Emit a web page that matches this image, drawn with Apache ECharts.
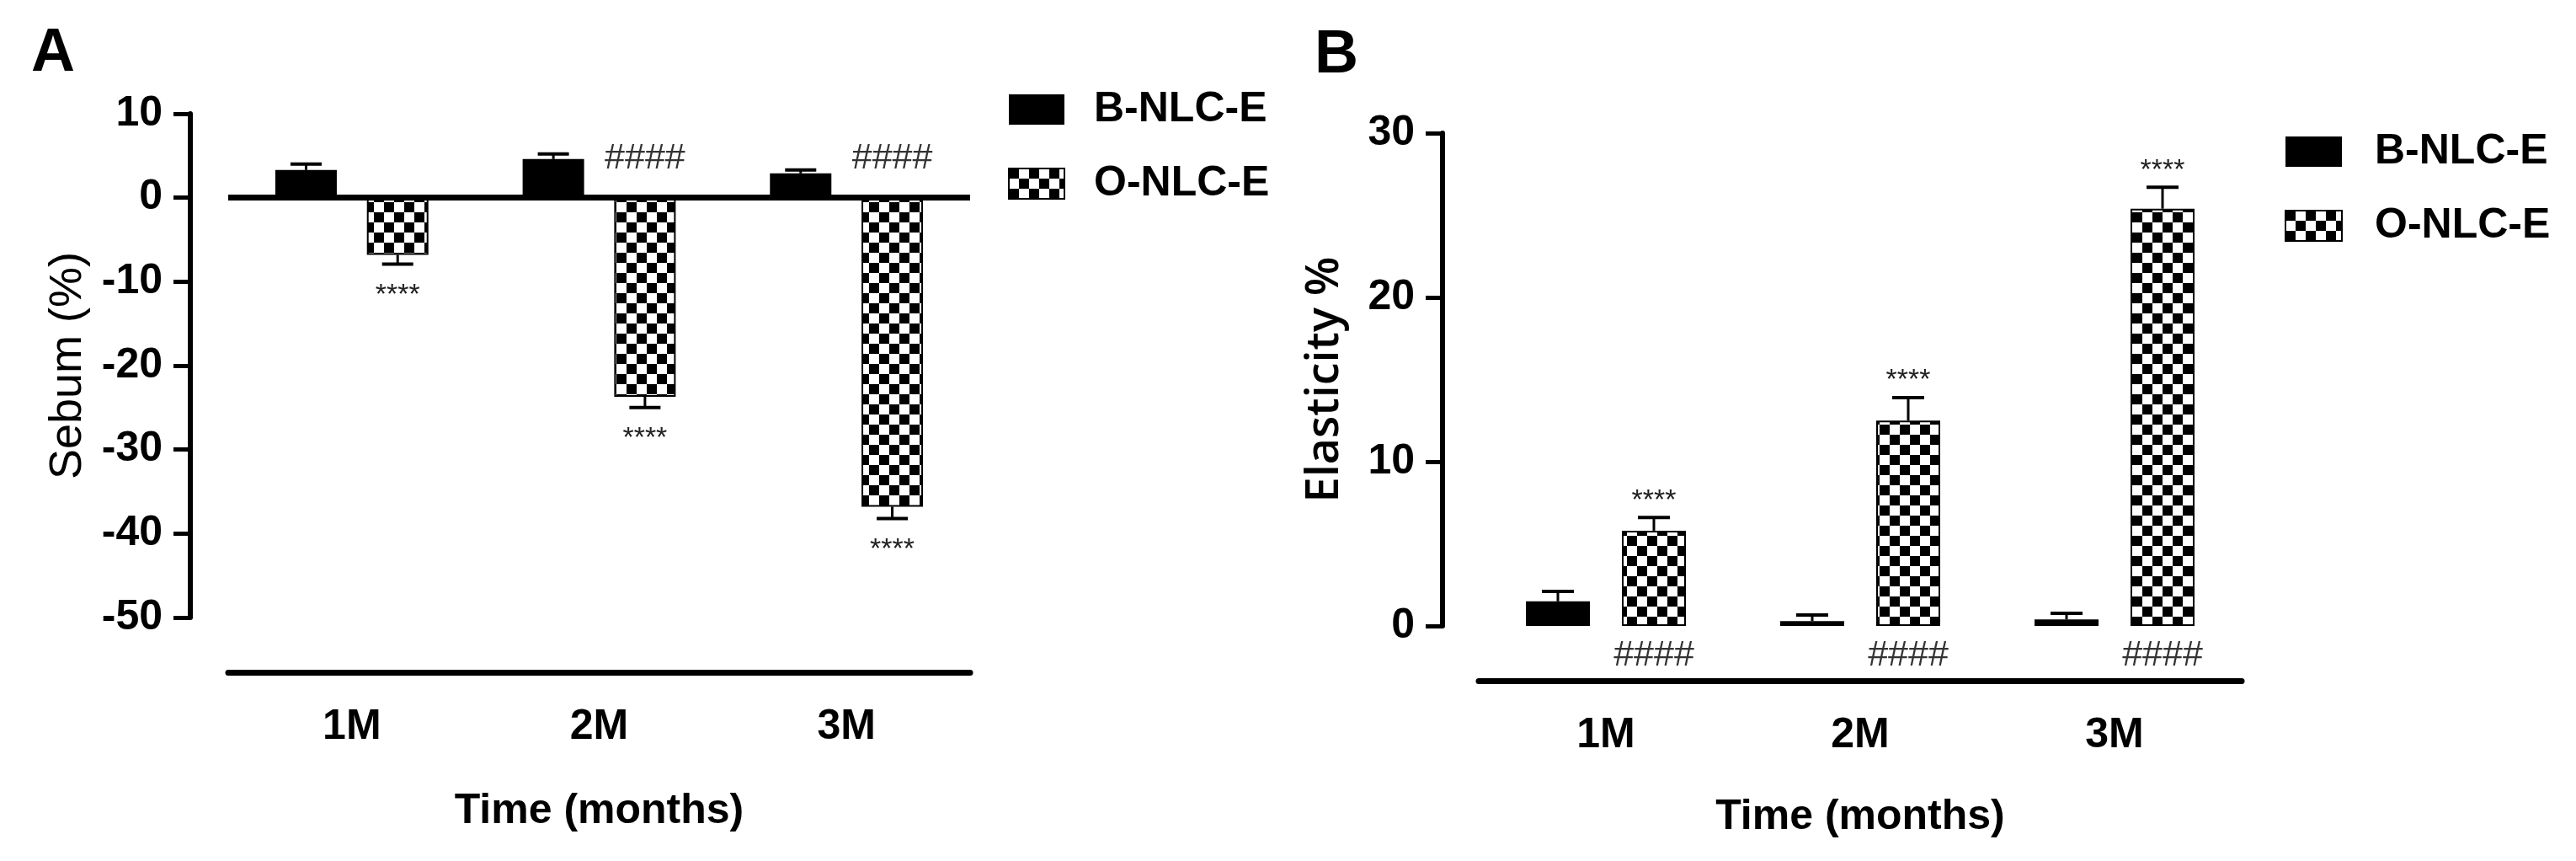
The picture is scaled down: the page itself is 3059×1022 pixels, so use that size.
<!DOCTYPE html>
<html><head><meta charset="utf-8">
<script src="https://cdn.jsdelivr.net/npm/echarts@6/dist/echarts.min.js"></script>
<style>html,body{margin:0;padding:0;background:#fff}#c{width:3059px;height:1022px}</style>
</head><body><div id="c"></div>
<script>
// ---------- data ----------
const categories = ['1M', '2M', '3M'];
const seriesNames = ['B-NLC-E', 'O-NLC-E'];

// Panel A : Sebum (%)
const sebumB = [3.3, 4.6, 2.9];
const sebumBErr = [0.7, 0.6, 0.4];
const sebumO = [-6.8, -23.7, -36.8];
const sebumOErr = [1.1, 1.3, 1.4];
const sebumStars = ['****', '****', '****'];
const sebumHash = ['', '####', '####'];
const sebumTicks = [-50, -40, -30, -20, -10, 0, 10];

// Panel B : Elasticity %
const elastB = [1.5, 0.3, 0.4];
const elastBErr = [0.6, 0.37, 0.37];
const elastO = [5.8, 12.5, 25.4];
const elastOErr = [0.8, 1.4, 1.3];
const elastStars = ['****', '****', '****'];
const elastHash = ['####', '####', '####'];
const elastTicks = [0, 10, 20, 30];

// ---------- styles ----------
const FONT = '"Liberation Sans", Arial, Helvetica, sans-serif';
const axisFont = {fontFamily: FONT, fontWeight: 'bold', fontSize: 50, color: '#000'};
const starFont = '34px ' + FONT;
const hashFont = '43px ' + FONT;

function checker(size) {
  const c = document.createElement('canvas');
  c.width = c.height = size * 2;
  const g = c.getContext('2d');
  g.fillStyle = '#fff'; g.fillRect(0, 0, size * 2, size * 2);
  g.fillStyle = '#000'; g.fillRect(0, 0, size, size); g.fillRect(size, size, size, size);
  return c;
}
const checkerFill = {image: checker(12), repeat: 'repeat'};

const barWA = 73, gapA = 0.49;
const barWB = 76, gapB = 0.5;

function errorSeries(idx, values, errs, dx, capW, stars, starGap, hashes, hashDy) {
  return {
    type: 'custom', xAxisIndex: idx, yAxisIndex: idx, silent: true, z: 4,
    data: values.map((v, i) => [i, v, errs[i]]),
    renderItem: function (params, api) {
      const i = params.dataIndex;
      const v = api.value(1), e = api.value(2);
      const s = v >= 0 ? 1 : -1;
      const base = api.coord([api.value(0), v]);
      const tip = api.coord([api.value(0), v + s * e]);
      const zero = api.coord([api.value(0), 0]);
      const x = base[0] + dx;
      const ch = [
        {type: 'line', shape: {x1: x, y1: base[1], x2: x, y2: tip[1]}, style: {stroke: '#000', lineWidth: 3}},
        {type: 'line', shape: {x1: x - capW / 2, y1: tip[1], x2: x + capW / 2, y2: tip[1]}, style: {stroke: '#000', lineWidth: 4}}
      ];
      if (stars && stars[i]) ch.push({type: 'text', x: x, y: tip[1] - s * starGap + 8,
        style: {text: stars[i], font: starFont, fill: '#222', align: 'center', verticalAlign: 'middle'}});
      if (hashes && hashes[i]) ch.push({type: 'text', x: x, y: zero[1] + hashDy,
        style: {text: hashes[i], font: hashFont, fill: '#333', align: 'center', verticalAlign: 'middle'}});
      return {type: 'group', children: ch};
    }
  };
}

function xAxisCfg(idx, nameGap) {
  return {
    gridIndex: idx, type: 'category', data: categories, position: 'bottom', offset: 65,
    axisLine: {onZero: false, lineStyle: {color: '#000', width: 7}},
    axisTick: {alignWithLabel: true, length: 30, lineStyle: {color: '#000', width: 4}},
    axisLabel: Object.assign({margin: 40}, axisFont),
    name: 'Time (months)', nameLocation: 'middle', nameGap: nameGap,
    nameTextStyle: Object.assign({}, axisFont)
  };
}
function yAxisCfg(idx, ticks, offset, name, nameGap, nameStyle) {
  return {
    gridIndex: idx, type: 'value', min: ticks[0], max: ticks[ticks.length - 1],
    interval: ticks[1] - ticks[0], offset: offset,
    axisLine: {show: true, lineStyle: {color: '#000', width: 6}},
    axisTick: {show: true, length: 20, lineStyle: {color: '#000', width: 5}},
    splitLine: {show: false},
    axisLabel: Object.assign({margin: 33}, axisFont),
    name: name, nameLocation: 'middle', nameGap: nameGap, nameTextStyle: nameStyle
  };
}

const chart = echarts.init(document.getElementById('c'), null, {renderer: 'canvas'});
chart.setOption({
  animation: false,
  backgroundColor: '#fff',
  grid: [
    {left: 271, top: 135, width: 881, height: 598},
    {left: 1756, top: 158, width: 906, height: 585}
  ],
  xAxis: [xAxisCfg(0, 140), xAxisCfg(1, 137)],
  yAxis: [
    yAxisCfg(0, sebumTicks, 45, 'Sebum (%)', 118, {fontFamily: FONT, fontSize: 54, color: '#000'}),
    yAxisCfg(1, elastTicks, 43, 'Elasticity %', 112, {fontFamily: '"Open Sans", ' + FONT, fontWeight: 600, fontSize: 54, color: '#000'})
  ],
  legend: [
    {data: seriesNames, orient: 'vertical', left: 1192, top: 100, itemWidth: 66, itemHeight: 36, itemGap: 38,
     icon: 'rect', selectedMode: false, textStyle: Object.assign({lineHeight: 50, padding: [0, 0, 0, 30]}, axisFont)},
    {data: seriesNames, orient: 'vertical', left: 2708, top: 150, itemWidth: 67, itemHeight: 36, itemGap: 38,
     icon: 'rect', selectedMode: false, textStyle: Object.assign({lineHeight: 50, padding: [0, 0, 0, 34]}, axisFont)}
  ],
  graphic: [
    {type: 'text', left: 37, top: 28, style: {text: 'A', font: 'bold 72px ' + FONT, fill: '#000'}},
    {type: 'text', left: 1561, top: 30, style: {text: 'B', font: 'bold 72px ' + FONT, fill: '#000'}}
  ],
  series: [
    {type: 'bar', name: seriesNames[0], xAxisIndex: 0, yAxisIndex: 0, data: sebumB, barWidth: barWA, barGap: (gapA * 100) + '%',
     itemStyle: {color: '#000'}, silent: true,
     markLine: {silent: true, symbol: 'none', label: {show: false}, lineStyle: {color: '#000', width: 7, type: 'solid'}, data: [{yAxis: 0}]}},
    {type: 'bar', name: seriesNames[1], xAxisIndex: 0, yAxisIndex: 0, data: sebumO, barWidth: barWA, barGap: (gapA * 100) + '%',
     itemStyle: {color: checkerFill, borderColor: '#000', borderWidth: 2}, silent: true},
    {type: 'bar', name: seriesNames[0], xAxisIndex: 1, yAxisIndex: 1, data: elastB, barWidth: barWB, barGap: (gapB * 100) + '%',
     itemStyle: {color: '#000'}, silent: true},
    {type: 'bar', name: seriesNames[1], xAxisIndex: 1, yAxisIndex: 1, data: elastO, barWidth: barWB, barGap: (gapB * 100) + '%',
     itemStyle: {color: checkerFill, borderColor: '#000', borderWidth: 2}, silent: true},
    errorSeries(0, sebumB, sebumBErr, -(barWA * (1 + gapA)) / 2, 37, null, 0, null, 0),
    errorSeries(0, sebumO, sebumOErr, (barWA * (1 + gapA)) / 2, 37, sebumStars, 29, sebumHash, -47),
    errorSeries(1, elastB, elastBErr, -(barWB * (1 + gapB)) / 2, 38, null, 0, null, 0),
    errorSeries(1, elastO, elastOErr, (barWB * (1 + gapB)) / 2, 38, elastStars, 28, elastHash, 35)
  ]
});
</script>
</body></html>
